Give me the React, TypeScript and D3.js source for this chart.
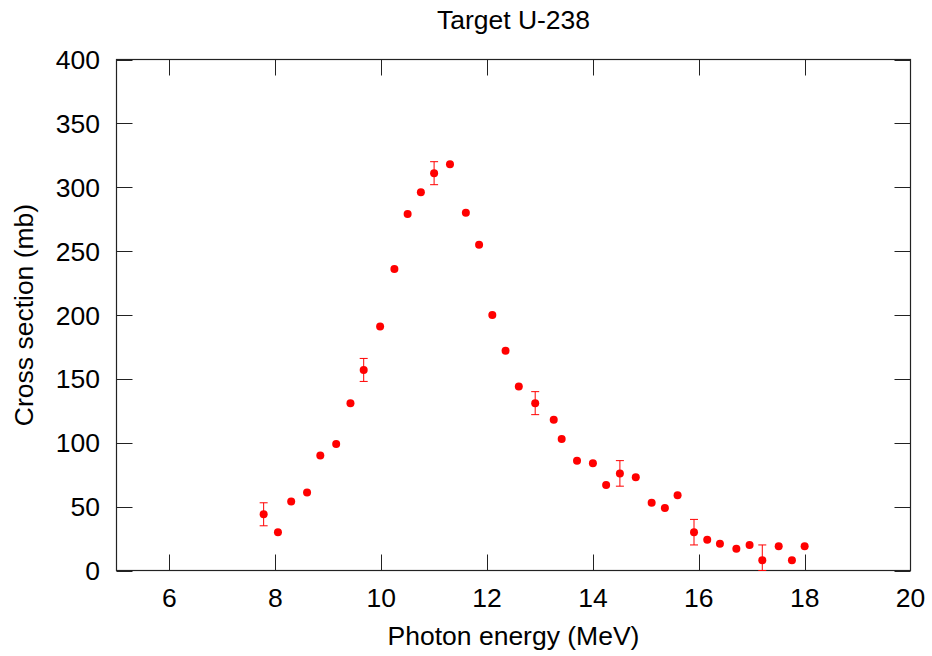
import React, { useEffect, useRef } from 'react';
import * as d3 from 'd3';

// photon energies (MeV)
const energies = [
  7.78, 8.05, 8.3, 8.6, 8.85, 9.15, 9.42, 9.67, 9.98, 10.25,
  10.5, 10.75, 11.0, 11.3, 11.6, 11.85, 12.1, 12.35, 12.6, 12.91,
  13.26, 13.41, 13.7, 14.0, 14.25, 14.51, 14.81, 15.11, 15.36, 15.6,
  15.91, 16.16, 16.4, 16.71, 16.96, 17.2, 17.51, 17.76, 18.0,
];

// cross sections (mb)
const crossSections = [
  44, 30, 54, 61, 90, 99, 131, 157, 191, 236,
  279, 296, 311, 318, 280, 255, 200, 172, 144, 131,
  118, 103, 86, 84, 67, 76, 73, 53, 49, 59,
  30, 24, 21, 17, 20, 8, 19, 8, 19,
];

// error bars, null where none is drawn
const errors: (number | null)[] = [
  9, null, null, null, null, null, null, 9, null, null,
  null, null, 9, null, null, null, null, null, null, 9,
  null, null, null, null, null, 10, null, null, null, null,
  10, null, null, null, null, 12, null, null, null,
];

const xTicks = [6, 8, 10, 12, 14, 16, 18, 20];
const yTicks = [0, 50, 100, 150, 200, 250, 300, 350, 400];

const App = () => {
  const svgRef = useRef<SVGSVGElement>(null);

  useEffect(() => {
    const svg = d3.select(svgRef.current);
    svg.selectAll('*').remove();

    const width = 932;
    const height = 656;
    const left = 116.5, right = 910.5, top = 59.5, bottom = 570.5;
    const font = '"Liberation Sans", Arial, Helvetica, sans-serif';
    const fontSize = '26.5px';
    const tickLen = 16;

    svg.attr('width', width).attr('height', height);

    const x = d3.scaleLinear().domain([5, 20]).range([left, right]);
    const y = d3.scaleLinear().domain([0, 400]).range([bottom, top]);

    const g = svg.append('g');

    // ticks on all four sides, pointing inward
    xTicks.forEach(t => {
      if (t === 20) return;
      const px = Math.round(x(t)) + 0.5;
      g.append('line').attr('x1', px).attr('x2', px)
        .attr('y1', bottom).attr('y2', bottom - tickLen)
        .attr('stroke', '#222').attr('stroke-width', 1);
      g.append('line').attr('x1', px).attr('x2', px)
        .attr('y1', top).attr('y2', top + tickLen)
        .attr('stroke', '#222').attr('stroke-width', 1);
    });
    yTicks.forEach(t => {
      const py = Math.round(y(t)) + 0.5;
      g.append('line').attr('x1', left).attr('x2', left + tickLen)
        .attr('y1', py).attr('y2', py)
        .attr('stroke', '#222').attr('stroke-width', 1);
      g.append('line').attr('x1', right).attr('x2', right - tickLen)
        .attr('y1', py).attr('y2', py)
        .attr('stroke', '#222').attr('stroke-width', 1);
    });

    // border
    g.append('rect')
      .attr('x', left).attr('y', top)
      .attr('width', right - left).attr('height', bottom - top)
      .attr('fill', 'none').attr('stroke', '#222').attr('stroke-width', 1.2);

    // tick labels
    g.selectAll('.xlab').data(xTicks).enter().append('text')
      .attr('x', d => x(d)).attr('y', 606.5)
      .attr('text-anchor', 'middle')
      .style('font-family', font).style('font-size', fontSize)
      .text(d => d);

    g.selectAll('.ylab').data(yTicks).enter().append('text')
      .attr('x', 100).attr('y', d => y(d)).attr('dy', '0.36em')
      .attr('text-anchor', 'end')
      .style('font-family', font).style('font-size', fontSize)
      .text(d => d);

    // axis titles
    g.append('text')
      .attr('x', (left + right) / 2).attr('y', 645)
      .attr('text-anchor', 'middle')
      .style('font-family', font).style('font-size', fontSize)
      .text('Photon energy (MeV)');

    g.append('text')
      .attr('transform', `translate(33, ${(top + bottom) / 2}) rotate(-90)`)
      .attr('text-anchor', 'middle')
      .style('font-family', font).style('font-size', fontSize)
      .text('Cross section (mb)');

    g.append('text')
      .attr('x', (left + right) / 2).attr('y', 28.5)
      .attr('text-anchor', 'middle')
      .style('font-family', font).style('font-size', fontSize)
      .text('Target U-238');

    const data = energies.map((e, i) => ({ e, s: crossSections[i], err: errors[i] }));

    // error bars
    const eb = g.selectAll('.err').data(data.filter(d => d.err != null)).enter().append('g');
    const lo = (d: any) => y(Math.max(0, d.s - d.err));
    const hi = (d: any) => y(d.s + d.err);
    eb.append('line')
      .attr('x1', d => x(d.e)).attr('x2', d => x(d.e))
      .attr('y1', lo).attr('y2', hi)
      .attr('stroke', '#ff0000').attr('stroke-width', 1);
    eb.append('line')
      .attr('x1', d => x(d.e) - 4).attr('x2', d => x(d.e) + 4)
      .attr('y1', lo).attr('y2', lo)
      .attr('stroke', '#ff0000').attr('stroke-width', 1);
    eb.append('line')
      .attr('x1', d => x(d.e) - 4).attr('x2', d => x(d.e) + 4)
      .attr('y1', hi).attr('y2', hi)
      .attr('stroke', '#ff0000').attr('stroke-width', 1);

    // points
    g.selectAll('.pt').data(data).enter().append('circle')
      .attr('cx', d => x(d.e)).attr('cy', d => y(d.s))
      .attr('r', 4).attr('fill', '#ff0000');
  }, []);

  return (
    <svg ref={svgRef} style={{ position: 'absolute', left: 0, top: 0, background: '#fff' }}></svg>
  );
};

export default App;
